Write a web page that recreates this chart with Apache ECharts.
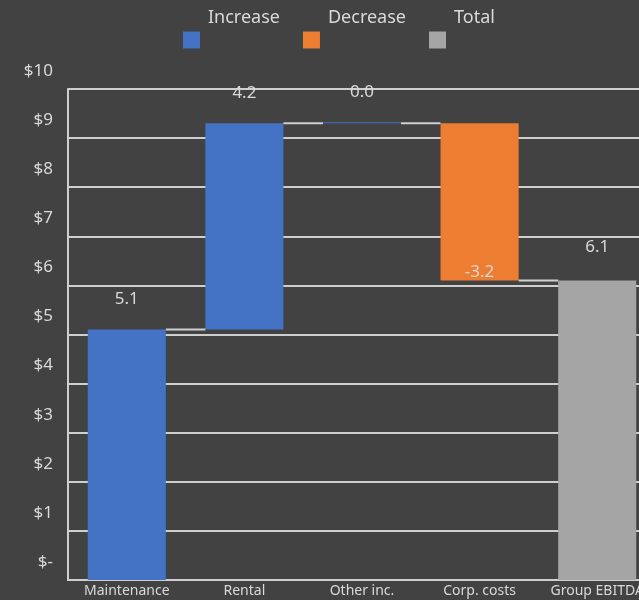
<!DOCTYPE html>
<html>
<head>
<meta charset="utf-8">
<style>
  html, body { margin: 0; padding: 0; background: #414241; }
  #chart { width: 639px; height: 600px; }
</style>
<script src="https://cdn.jsdelivr.net/npm/echarts@6/dist/echarts.min.js"></script>
</head>
<body>
<div id="chart"></div>
<script>
// waterfall data ($m)
let categories = ['Maintenance', 'Rental', 'Other inc.', 'Corp. costs', 'Group EBITDA'];
let changes = [5.1, 4.2, 0.0, -3.2];
let total = 6.1;

let colors = ['#4472c4', '#ed7d31', '#a5a5a5'];
let textColor = '#d9d9d9';
let lineColor = '#cfcfcf';

// build stacked series from the changes
let base = [], inc = [], dec = [], tot = [], levels = [];
let run = 0;
changes.forEach(function (c) {
  if (c >= 0) {
    base.push(run); inc.push(c); dec.push('-');
  } else {
    base.push(run + c); inc.push('-'); dec.push(-c);
  }
  tot.push('-');
  run = +(run + c).toFixed(1);
  levels.push(run);
});
base.push(0); inc.push('-'); dec.push('-'); tot.push(total);

let barWidthFrac = 0.664;

let option = {
  backgroundColor: '#414241',
  textStyle: { fontFamily: 'Noto Sans' },
  title: {
    text: 'Group EBITDA bridge by segment, FY ($m)',
    left: 150,
    top: -29,
    textStyle: { color: '#ed7d31', fontSize: 20, fontWeight: 'bold' }
  },
  legend: {
    data: ['Increase', 'Decrease', 'Total'],
    left: 178,
    top: -10,
    icon: 'rect',
    itemWidth: 17,
    itemHeight: 17,
    itemGap: 23,
    // text sits above and to the right of the swatch
    formatter: function (name) { return name + '\n '; },
    textStyle: { color: textColor, fontSize: 18, lineHeight: 45, padding: [0, 0, 0, 3] }
  },
  grid: { left: 68, right: -17, top: 89, bottom: 20, containLabel: false, outerBoundsMode: 'none' },
  xAxis: {
    type: 'category',
    data: categories,
    axisLine: { lineStyle: { color: lineColor, width: 2 } },
    axisTick: { show: false },
    axisLabel: { color: textColor, fontSize: 14, margin: 4, interval: 0 }
  },
  yAxis: {
    type: 'value',
    min: 0,
    max: 10,
    interval: 1,
    axisLine: { show: true, lineStyle: { color: lineColor, width: 2 } },
    axisTick: { show: false },
    splitLine: { lineStyle: { color: lineColor, width: 2 } },
    axisLabel: {
      color: textColor,
      fontSize: 17,
      lineHeight: 36,
      verticalAlign: 'bottom',
      margin: 15,
      showMinLabel: true,
      showMaxLabel: true,
      hideOverlap: false,
      formatter: function (v) { return v === 0 ? '$-' : '$' + v; }
    }
  },
  series: [
    {
      name: 'base',
      type: 'bar',
      stack: 'w',
      data: base,
      barWidth: (barWidthFrac * 100) + '%',
      itemStyle: { color: 'transparent' },
      silent: true
    },
    {
      name: 'Increase',
      type: 'bar',
      stack: 'w',
      data: inc,
      barMinHeight: 1,
      itemStyle: { color: colors[0] },
      label: {
        show: true, position: 'top', distance: 22,
        color: textColor, fontSize: 17,
        formatter: function (p) { return p.value.toFixed(1); }
      }
    },
    {
      name: 'Decrease',
      type: 'bar',
      stack: 'w',
      data: dec,
      itemStyle: { color: colors[1] },
      label: {
        show: true, position: 'insideBottom', distance: 0,
        color: textColor, fontSize: 17,
        formatter: function (p) { return '-' + p.value.toFixed(1); }
      }
    },
    {
      name: 'Total',
      type: 'bar',
      stack: 'w',
      data: tot,
      itemStyle: { color: colors[2] },
      label: {
        show: true, position: 'top', distance: 25,
        color: textColor, fontSize: 17,
        formatter: function (p) { return p.value.toFixed(1); }
      }
    },
    {
      // connector lines between bar ends
      name: 'connectors',
      type: 'custom',
      data: levels.map(function (l, i) { return [i, l]; }),
      silent: true,
      z: 5,
      renderItem: function (params, api) {
        let i = api.value(0);
        let a = api.coord([i, api.value(1)]);
        let b = api.coord([i + 1, api.value(1)]);
        let half = api.size([1, 0])[0] * barWidthFrac / 2;
        return {
          type: 'line',
          shape: { x1: a[0] + half, y1: a[1], x2: b[0] - half, y2: b[1] },
          style: { stroke: lineColor, lineWidth: 2 }
        };
      }
    }
  ]
};

let myChart = echarts.init(document.getElementById('chart'));
myChart.setOption(option);
</script>
</body>
</html>
